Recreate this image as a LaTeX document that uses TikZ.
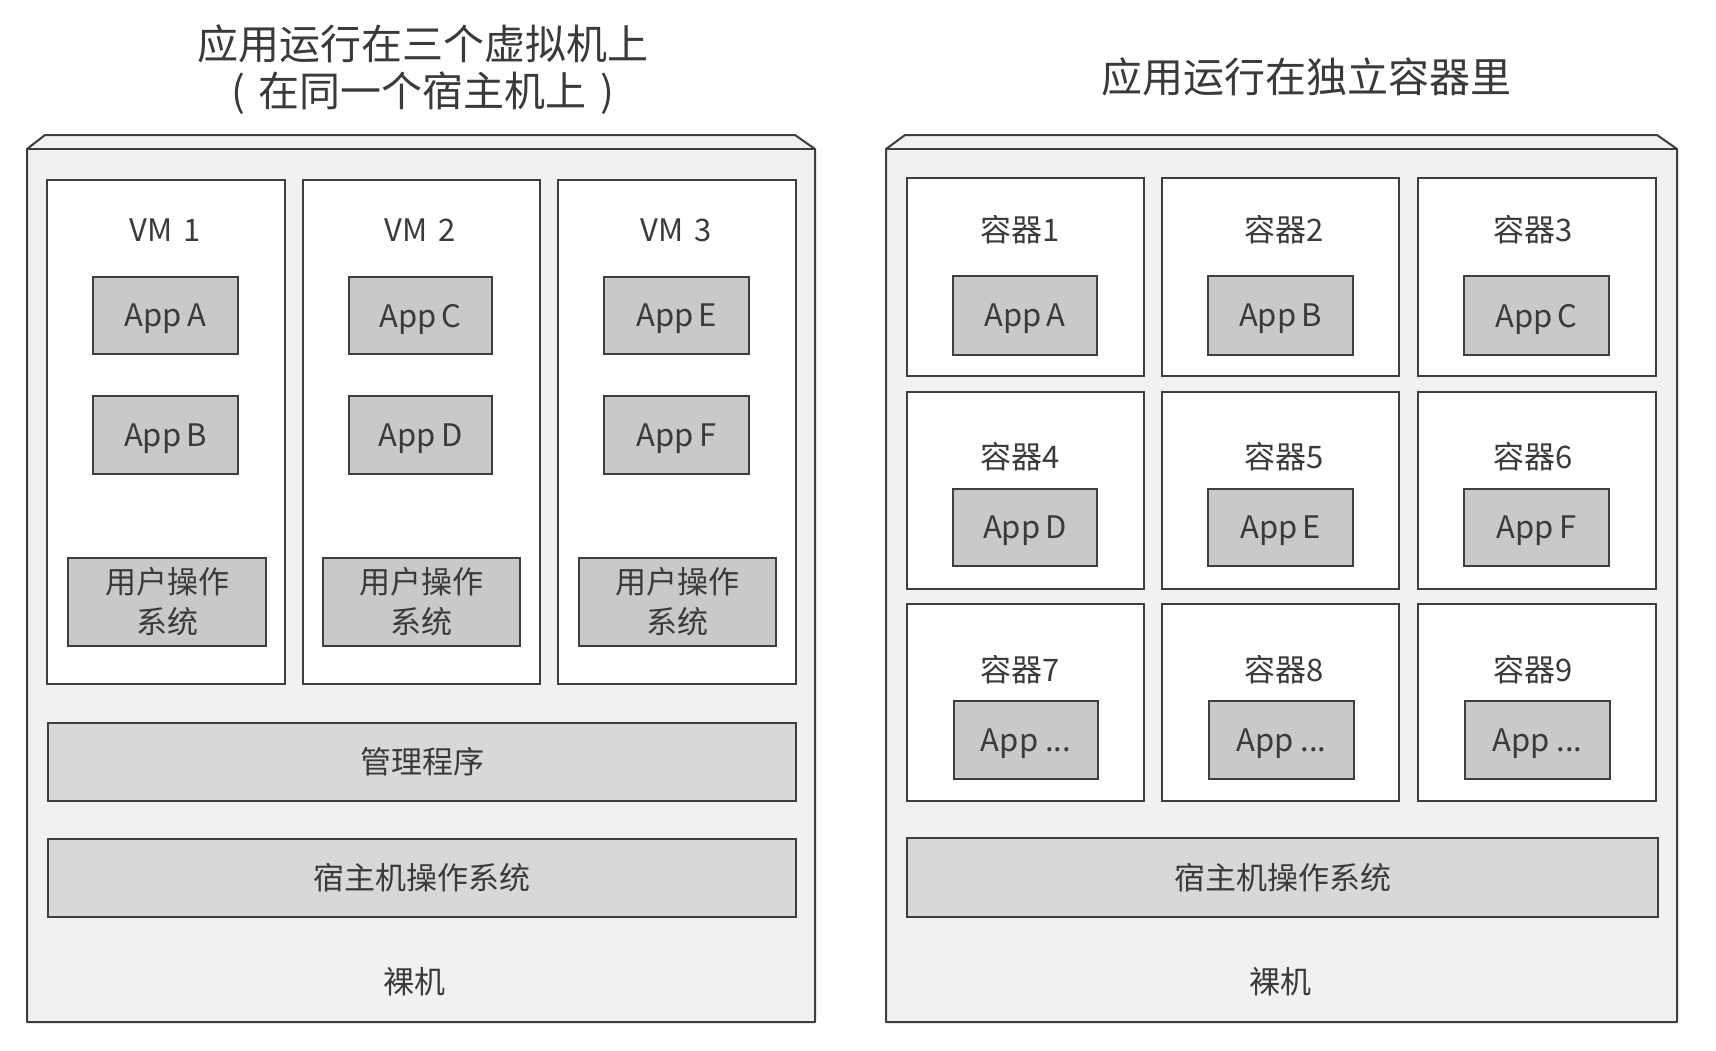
\documentclass[tikz,border=0pt]{standalone}
\usepackage{fontspec}
\setmainfont{Noto Sans CJK SC}
\definecolor{lc}{HTML}{3E3E3E}
\definecolor{tc}{HTML}{3A3A3A}
\definecolor{outerfill}{HTML}{F1F1F1}
\definecolor{appgray}{HTML}{C9C9C9}
\definecolor{layergray}{HTML}{D8D8D8}
\newcommand\bx[7]{\node[#6, minimum width={(#4-#2)*0.5pt}, minimum height={(#5-#3)*0.5pt}] (#1) at ({(#2+#4)/2},{(#3+#5)/2}) {#7};}
\begin{document}
\begin{tikzpicture}[x=0.5pt,y=-0.5pt,
  base/.style={draw=lc, line width=1pt, inner sep=0pt, outer sep=0pt, text=tc, align=center,
    font=\fontsize{15.5}{20}\selectfont},
  vmbox/.style={base, fill=white},
  osbox/.style={base, fill=appgray},
  appbox/.style={base, fill=appgray, text depth=0pt},
  layerbox/.style={base, fill=layergray},
  lbl/.style={text=tc, inner sep=0pt, font=\fontsize{15.5}{20}\selectfont},
  ttl/.style={text=tc, inner sep=0pt, align=center, font=\fontsize{20.5}{23.5}\selectfont},
  frame/.style={draw=lc, line width=1pt, fill=outerfill, line join=round}]
\useasboundingbox[fill=white] (0,0) rectangle (1716,1050);

% titles
\node[ttl] (t1) at (423,70) {应用运行在三个虚拟机上\\(\,\,在同一个宿主机上\,\,)};
\node[ttl] (t2) at (1306,77) {应用运行在独立容器里};

% left frame
\draw[frame] (27,149) -- (45,135) -- (795,135) -- (815,149) -- (815,1022) -- (27,1022) -- cycle;
\draw[draw=lc, line width=1pt] (27,149) -- (815,149);
% right frame
\draw[frame] (886,149) -- (905,135) -- (1657,135) -- (1677,149) -- (1677,1022) -- (886,1022) -- cycle;
\draw[draw=lc, line width=1pt] (886,149) -- (1677,149);

% VMs
\bx{vm1}{47}{180}{285}{684}{vmbox}{}
\bx{vm2}{303}{180}{540}{684}{vmbox}{}
\bx{vm3}{558}{180}{796}{684}{vmbox}{}
\node[lbl] (vm1l) at (165,230) {VM\,\,1};
\node[lbl] (vm2l) at (420,230) {VM\,\,2};
\node[lbl] (vm3l) at (676,230) {VM\,\,3};

\bx{aA}{93}{277}{238}{354}{appbox}{App\,A}
\bx{aB}{93}{396}{238}{474}{appbox}{App\,B}
\bx{aC}{349}{277}{492}{354}{appbox}{App\,C}
\bx{aD}{349}{396}{492}{474}{appbox}{App\,D}
\bx{aE}{604}{277}{749}{354}{appbox}{App\,E}
\bx{aF}{604}{396}{749}{474}{appbox}{App\,F}

\bx{os1}{68}{558}{266}{646}{osbox}{用户操作\\系统}
\bx{os2}{323}{558}{520}{646}{osbox}{用户操作\\系统}
\bx{os3}{579}{558}{776}{646}{osbox}{用户操作\\系统}

\bx{hyp}{48}{723}{796}{801}{layerbox}{管理程序}
\bx{hos1}{48}{839}{796}{917}{layerbox}{宿主机操作系统}
\node[lbl] (bm1) at (414,982) {裸机};

% containers
\bx{c1}{907}{178}{1144}{376}{vmbox}{}
\bx{c2}{1162}{178}{1399}{376}{vmbox}{}
\bx{c3}{1418}{178}{1656}{376}{vmbox}{}
\bx{c4}{907}{392}{1144}{589}{vmbox}{}
\bx{c5}{1162}{392}{1399}{589}{vmbox}{}
\bx{c6}{1418}{392}{1656}{589}{vmbox}{}
\bx{c7}{907}{604}{1144}{801}{vmbox}{}
\bx{c8}{1162}{604}{1399}{801}{vmbox}{}
\bx{c9}{1418}{604}{1656}{801}{vmbox}{}

\node[lbl] (c1l) at (1020,230) {容器1};
\node[lbl] (c2l) at (1284,230) {容器2};
\node[lbl] (c3l) at (1533,230) {容器3};
\node[lbl] (c4l) at (1020,457) {容器4};
\node[lbl] (c5l) at (1284,457) {容器5};
\node[lbl] (c6l) at (1533,457) {容器6};
\node[lbl] (c7l) at (1020,670) {容器7};
\node[lbl] (c8l) at (1284,670) {容器8};
\node[lbl] (c9l) at (1533,670) {容器9};

\bx{ca1}{953}{276}{1097}{355}{appbox}{App\,A}
\bx{ca2}{1208}{276}{1353}{355}{appbox}{App\,B}
\bx{ca3}{1464}{276}{1609}{355}{appbox}{App\,C}
\bx{ca4}{953}{489}{1097}{566}{appbox}{App\,D}
\bx{ca5}{1208}{489}{1353}{566}{appbox}{App\,E}
\bx{ca6}{1464}{489}{1609}{566}{appbox}{App\,F}
\bx{ca7}{954}{701}{1098}{779}{appbox}{App ...}
\bx{ca8}{1209}{701}{1354}{779}{appbox}{App ...}
\bx{ca9}{1465}{701}{1610}{779}{appbox}{App ...}

\bx{hos2}{907}{838}{1658}{917}{layerbox}{宿主机操作系统}
\node[lbl] (bm2) at (1280,982) {裸机};
\end{tikzpicture}
\end{document}
